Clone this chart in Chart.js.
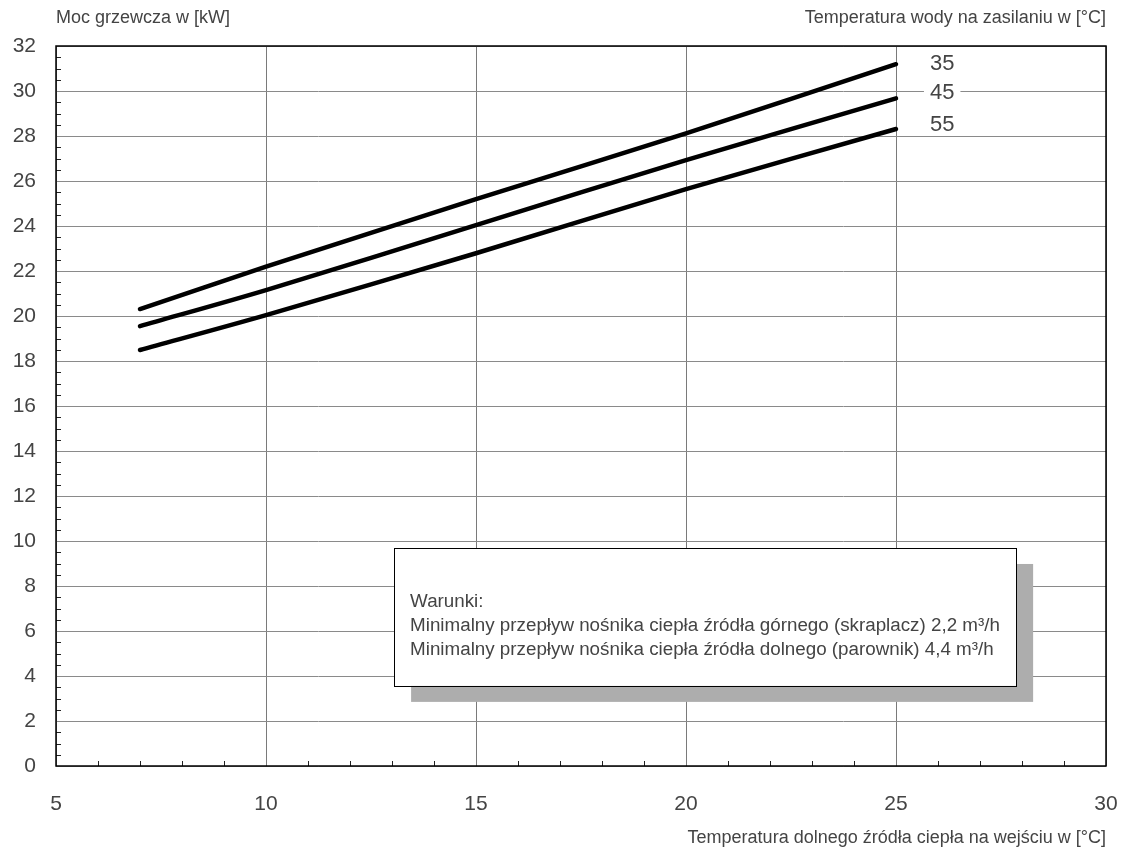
<!DOCTYPE html>
<html>
<head>
<meta charset="utf-8">
<script src="https://cdn.jsdelivr.net/npm/chart.js@4.4.0/dist/chart.umd.min.js"></script>
<style>
  html, body { margin: 0; padding: 0; background: #fff; overflow: hidden; }
  #wrap { width: 1126px; height: 849px; position: relative; }
</style>
</head>
<body>
<div id="wrap"><canvas id="chart" width="1126" height="849"></canvas></div>
<script>
// Temperatura dolnego źródła (x) i moc grzewcza (y) dla trzech temperatur zasilania
const inletTemps = [7, 10, 15, 20, 25];
const power35 = [20.31, 22.19, 25.19, 28.12, 31.19];
const power45 = [19.55, 21.15, 24.04, 26.93, 29.67];
const power55 = [18.49, 20.04, 22.79, 25.64, 28.31];
const seriesLabels = ["35", "45", "55"];

const yTitle = "Moc grzewcza w [kW]";
const seriesTitle = "Temperatura wody na zasilaniu w [°C]";
const xTitle = "Temperatura dolnego źródła ciepła na wejściu w [°C]";
const noteLines = [
  "Warunki:",
  "Minimalny przepływ nośnika ciepła źródła górnego (skraplacz) 2,2 m³/h",
  "Minimalny przepływ nośnika ciepła źródła dolnego (parownik) 4,4 m³/h"
];

const FONT = "'Liberation Sans', Arial, sans-serif";
const TEXT = "#444";

const toPoints = arr => arr.map((v, i) => ({ x: inletTemps[i], y: v }));

const extras = {
  id: "extras",
  beforeDatasetsDraw(chart) {
    const { ctx, chartArea: a, scales: { x, y } } = chart;
    ctx.save();
    // minor ticks on left and bottom axes
    ctx.strokeStyle = "#222";
    ctx.lineWidth = 1;
    for (let v = 0; v <= 32; v += 0.5) {
      if (v % 2 === 0) continue;
      const py = Math.round(y.getPixelForValue(v)) + 0.5;
      ctx.beginPath(); ctx.moveTo(a.left, py); ctx.lineTo(a.left + 5, py); ctx.stroke();
    }
    for (let v = 6; v < 30; v++) {
      if (v % 5 === 0) continue;
      const px = Math.round(x.getPixelForValue(v)) + 0.5;
      ctx.beginPath(); ctx.moveTo(px, a.bottom); ctx.lineTo(px, a.bottom - 5); ctx.stroke();
    }
    // frame
    ctx.strokeStyle = "#000";
    ctx.lineWidth = 1.5;
    ctx.strokeRect(a.left, a.top, a.right - a.left, a.bottom - a.top);
    ctx.restore();
  },
  afterDatasetsDraw(chart) {
    const { ctx, chartArea: a, scales: { x, y } } = chart;
    ctx.save();
    // note box with shadow
    const bx0 = x.getPixelForValue(13.05), bx1 = x.getPixelForValue(27.86);
    const by0 = y.getPixelForValue(9.69), by1 = y.getPixelForValue(3.56);
    ctx.fillStyle = "#adadad";
    ctx.fillRect(bx0 + 17, by0 + 16, bx1 - bx0, by1 - by0);
    ctx.fillStyle = "#fff";
    ctx.fillRect(bx0, by0, bx1 - bx0, by1 - by0);
    ctx.strokeStyle = "#000";
    ctx.lineWidth = 1;
    ctx.strokeRect(Math.round(bx0) + 0.5, Math.round(by0) + 0.5, Math.round(bx1 - bx0), Math.round(by1 - by0));
    ctx.fillStyle = TEXT;
    ctx.font = "18.8px " + FONT;
    ctx.textBaseline = "middle";
    ctx.textAlign = "left";
    noteLines.forEach((t, i) => ctx.fillText(t, bx0 + 16, by0 + 54 + i * 24));

    // series labels at line ends
    ctx.font = "22px " + FONT;
    ctx.textAlign = "center";
    const lx = x.getPixelForValue(26.1);
    const offs = [0, -5, -4];
    chart.data.datasets.forEach((ds, i) => {
      const last = ds.data[ds.data.length - 1];
      const py = y.getPixelForValue(last.y) + offs[i];
      const w = ctx.measureText(seriesLabels[i]).width;
      ctx.fillStyle = "#fff";
      ctx.fillRect(lx - w / 2 - 6, py - 9, w + 12, 18);
      ctx.fillStyle = TEXT;
      ctx.fillText(seriesLabels[i], lx, py);
    });

    // titles
    ctx.font = "18px " + FONT;
    ctx.textAlign = "left";
    ctx.fillText(yTitle, a.left, 18);
    ctx.textAlign = "right";
    ctx.fillText(seriesTitle, a.right, 18);
    ctx.fillText(xTitle, a.right, 838);
    ctx.restore();
  }
};

const lineStyle = {
  borderColor: "#000",
  borderWidth: 4.5,
  borderCapStyle: "round",
  pointRadius: 0,
  tension: 0.3,
  fill: false
};

new Chart(document.getElementById("chart"), {
  type: "line",
  data: {
    datasets: [
      { label: seriesLabels[0], data: toPoints(power35), ...lineStyle },
      { label: seriesLabels[1], data: toPoints(power45), ...lineStyle },
      { label: seriesLabels[2], data: toPoints(power55), ...lineStyle }
    ]
  },
  options: {
    responsive: false,
    animation: false,
    layout: { padding: { top: 46, right: 20, left: 0, bottom: 0 } },
    plugins: { legend: { display: false }, tooltip: { enabled: false } },
    scales: {
      x: {
        type: "linear",
        min: 5, max: 30,
        afterFit: s => { s.height = 83; s.paddingLeft = 0; s.paddingRight = 0; },
        border: { display: false },
        grid: { color: "#7a7a7a", lineWidth: 1, drawTicks: false },
        ticks: { stepSize: 5, padding: 26, color: TEXT, font: { family: FONT, size: 21 } }
      },
      y: {
        min: 0, max: 32,
        afterFit: s => { s.width = 56; s.paddingTop = 0; s.paddingBottom = 0; },
        border: { display: false },
        grid: { color: "#8a8a8a", lineWidth: 1, drawTicks: false },
        ticks: { stepSize: 2, padding: 20, color: TEXT, font: { family: FONT, size: 21 } }
      }
    }
  },
  plugins: [extras]
});
</script>
</body>
</html>
